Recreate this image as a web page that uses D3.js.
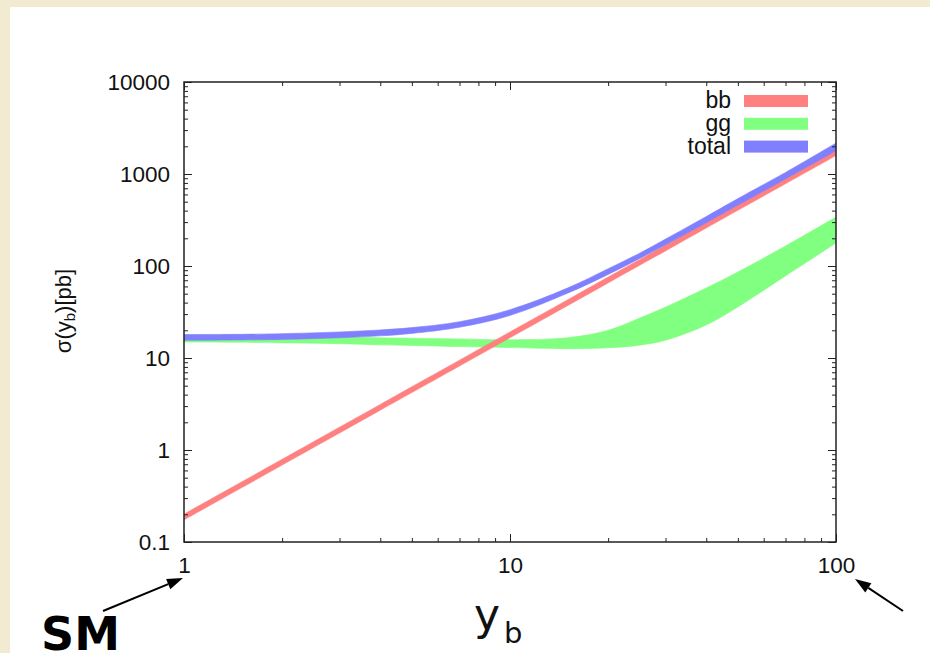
<!DOCTYPE html>
<html>
<head>
<meta charset="utf-8">
<script src="https://cdn.jsdelivr.net/npm/d3@7"></script>
<style>
  html, body { margin: 0; padding: 0; background: #f3ebd1; }
  svg { display: block; }
</style>
</head>
<body>
<svg id="chart" width="930" height="653"></svg>
<script>
// Bottom Yukawa coupling y_b (units of the SM value)
const yb = [1, 1.5, 2, 3, 4, 5, 7, 10, 15, 20, 25, 30, 40, 50, 70, 100];

// cross sections in pb, lower / upper edge of each uncertainty band
const bbLow    = [0.174, 0.388, 0.686, 1.53, 2.71, 4.21, 8.19, 16.6, 37.0, 65.5, 102, 146, 259, 403, 783, 1585];
const bbHigh   = [0.201, 0.448, 0.793, 1.77, 3.13, 4.87, 9.47, 19.2, 42.8, 75.7, 118, 169, 299, 465, 905, 1833];
const ggLow    = [14.9, 14.8, 14.6, 14.3, 13.9, 13.7, 13.3, 13.0, 12.6, 12.9, 13.8, 15.6, 22.9, 35.9, 78.0, 178];
const ggHigh   = [17.8, 17.6, 17.3, 17.0, 16.6, 16.4, 16.1, 15.8, 16.6, 20.0, 27.2, 35.8, 57.7, 86.1, 165, 340];
const totalLow  = [15.6, 15.7, 15.9, 16.6, 17.4, 18.5, 21.6, 29.0, 50.5, 81.0, 121, 170, 295, 460, 885, 1790];
const totalHigh = [18.0, 18.1, 18.4, 19.2, 20.2, 21.4, 24.8, 33.5, 57.5, 93.5, 138, 196, 345, 540, 1040, 2170];

const seriesNames = ["bb", "gg", "total"];

const xTickValues = [1, 10, 100];
const xTickLabels = ["1", "10", "100"];
const yTickValues = [0.1, 1, 10, 100, 1000, 10000];
const yTickLabels = ["0.1", "1", "10", "100", "1000", "10000"];

// ---- styling ----
const colors = { bb: "#ff8080", gg: "#80ff80", total: "#8080ff" };
const frame = { left: 184, right: 836, top: 82, bottom: 542 };
const tickFont = "'Liberation Sans', Arial, Helvetica, sans-serif";

const svg = d3.select("#chart");

// page panel
svg.append("rect").attr("x", 0).attr("y", 0).attr("width", 930).attr("height", 653).attr("fill", "#f3ebd1");
svg.append("rect").attr("x", 10).attr("y", 7).attr("width", 920).attr("height", 646).attr("fill", "#ffffff");

const x = d3.scaleLog().domain([1, 100]).range([frame.left, frame.right]);
const y = d3.scaleLog().domain([0.1, 10000]).range([frame.bottom, frame.top]);

// minor ticks at 2..9 of every decade
function minorTicks(lo, hi) {
  const out = [];
  for (let d = lo; d < hi; d *= 10) {
    for (let k = 2; k <= 9; k++) out.push(+(k * d).toPrecision(6));
  }
  return out;
}
const xMinor = minorTicks(1, 100);
const yMinor = minorTicks(0.1, 10000);

// ---- bands ----
const plot = svg.append("g");
plot.append("clipPath").attr("id", "clip")
  .append("rect")
  .attr("x", frame.left).attr("y", frame.top)
  .attr("width", frame.right - frame.left).attr("height", frame.bottom - frame.top);

function band(low, high) {
  return d3.area()
    .x((d, i) => x(yb[i]))
    .y0((d, i) => y(low[i]))
    .y1((d, i) => y(high[i]))
    .curve(d3.curveCatmullRom.alpha(0.5))(yb);
}

const bands = [
  { name: "gg", low: ggLow, high: ggHigh },
  { name: "bb", low: bbLow, high: bbHigh },
  { name: "total", low: totalLow, high: totalHigh }
];
const gBands = plot.append("g").attr("clip-path", "url(#clip)");
bands.forEach(b => {
  gBands.append("path")
    .attr("d", band(b.low, b.high))
    .attr("fill", colors[b.name])
    .attr("stroke", colors[b.name])
    .attr("stroke-width", 0.6);
});

// ---- axes (ticks point inwards on all four sides) ----
function styleAxis(g) {
  g.select(".domain").remove();
  g.selectAll(".tick line").attr("stroke", "#222").attr("stroke-width", 1);
  g.selectAll(".tick text").attr("font-family", tickFont).attr("font-size", 22.5).attr("fill", "#111");
}

const majLen = 8, minLen = 4;

svg.append("g").attr("transform", `translate(0,${frame.bottom})`)
  .call(d3.axisBottom(x).tickValues(xTickValues).tickSize(-majLen).tickPadding(15)
    .tickFormat((d, i) => xTickLabels[i]))
  .call(styleAxis);
svg.append("g").attr("transform", `translate(0,${frame.bottom})`)
  .call(d3.axisBottom(x).tickValues(xMinor).tickSize(-minLen).tickFormat(""))
  .call(styleAxis);
svg.append("g").attr("transform", `translate(0,${frame.top})`)
  .call(d3.axisTop(x).tickValues(xTickValues).tickSize(-majLen).tickFormat(""))
  .call(styleAxis);
svg.append("g").attr("transform", `translate(0,${frame.top})`)
  .call(d3.axisTop(x).tickValues(xMinor).tickSize(-minLen).tickFormat(""))
  .call(styleAxis);

svg.append("g").attr("transform", `translate(${frame.left},0)`)
  .call(d3.axisLeft(y).tickValues(yTickValues).tickSize(-majLen).tickPadding(14)
    .tickFormat((d, i) => yTickLabels[i]))
  .call(styleAxis);
svg.append("g").attr("transform", `translate(${frame.left},0)`)
  .call(d3.axisLeft(y).tickValues(yMinor).tickSize(-minLen).tickFormat(""))
  .call(styleAxis);
svg.append("g").attr("transform", `translate(${frame.right},0)`)
  .call(d3.axisRight(y).tickValues(yTickValues).tickSize(-majLen).tickFormat(""))
  .call(styleAxis);
svg.append("g").attr("transform", `translate(${frame.right},0)`)
  .call(d3.axisRight(y).tickValues(yMinor).tickSize(-minLen).tickFormat(""))
  .call(styleAxis);

// frame
svg.append("rect")
  .attr("x", frame.left).attr("y", frame.top)
  .attr("width", frame.right - frame.left).attr("height", frame.bottom - frame.top)
  .attr("fill", "none").attr("stroke", "#222").attr("stroke-width", 1.5);

// ---- legend ----
const legend = svg.append("g").attr("transform", "translate(731,108)");
seriesNames.forEach((name, i) => {
  const row = legend.append("g").attr("transform", `translate(0,${i * 22.8})`);
  row.append("text")
    .attr("x", 0).attr("y", 0)
    .attr("text-anchor", "end")
    .attr("font-family", tickFont).attr("font-size", 23).attr("fill", "#111")
    .text(name);
  row.append("rect")
    .attr("x", 13).attr("y", -13).attr("width", 64).attr("height", 12)
    .attr("fill", colors[name]);
});

// ---- axis titles ----
const yTitle = svg.append("text")
  .attr("transform", "translate(71,311) rotate(-90)")
  .attr("text-anchor", "middle")
  .attr("font-family", tickFont).attr("font-size", 22).attr("fill", "#111");
yTitle.append("tspan").text("σ(y");
yTitle.append("tspan").attr("baseline-shift", "-25%").attr("font-size", 15).text("b");
yTitle.append("tspan").text(")[pb]");

const xTitle = svg.append("text")
  .attr("x", 474).attr("y", 630)
  .attr("font-family", "'DejaVu Sans', Verdana, sans-serif").attr("font-size", 44).attr("fill", "#111");
xTitle.append("tspan").text("y");
xTitle.append("tspan").attr("dx", 4).attr("dy", 13).attr("font-size", 29).text("b");

// ---- SM annotation and arrows ----
svg.append("text")
  .attr("x", 41).attr("y", 650)
  .attr("font-family", "'DejaVu Sans', Verdana, sans-serif").attr("font-weight", "bold")
  .attr("font-size", 46).attr("fill", "#000")
  .text("SM");

function arrow(x0, y0, x1, y1) {
  const ang = Math.atan2(y1 - y0, x1 - x0);
  const len = 16, half = 5.5;
  const bx = x1 - len * Math.cos(ang), by = y1 - len * Math.sin(ang);
  const nx = -Math.sin(ang), ny = Math.cos(ang);
  svg.append("line")
    .attr("x1", x0).attr("y1", y0).attr("x2", bx).attr("y2", by)
    .attr("stroke", "#000").attr("stroke-width", 2);
  svg.append("path")
    .attr("d", `M${x1},${y1}L${bx + nx * half},${by + ny * half}L${bx - nx * half},${by - ny * half}Z`)
    .attr("fill", "#000");
}
arrow(103, 611, x(1) - 1, 578);
arrow(903, 611, x(100) + 19, 579);
</script>
</body>
</html>
